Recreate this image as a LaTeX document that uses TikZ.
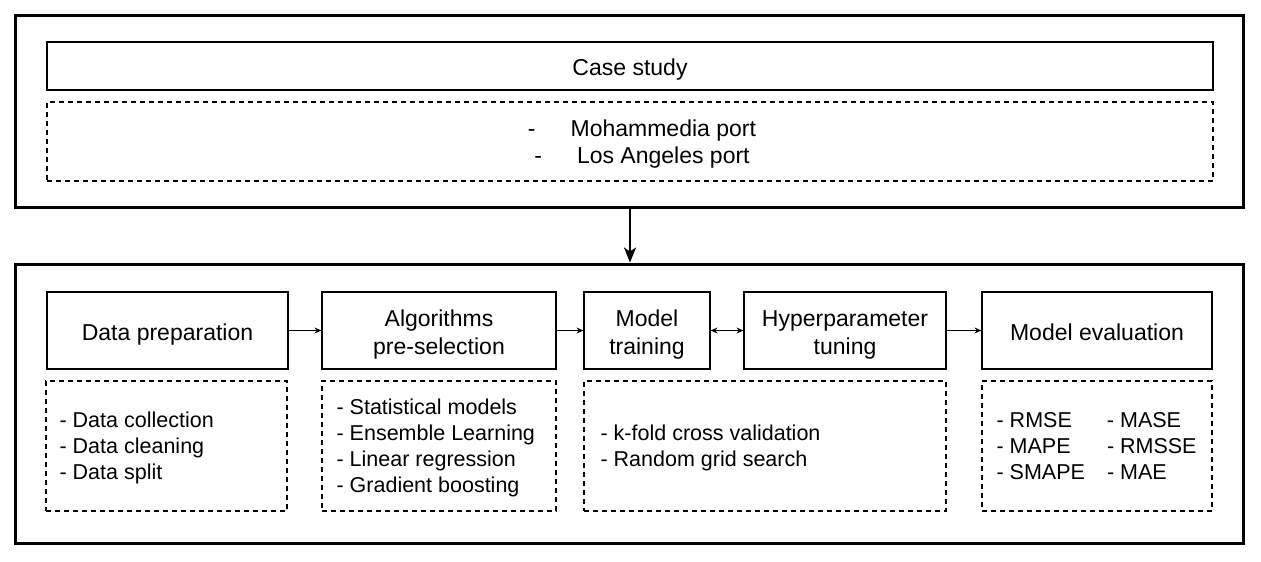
\documentclass[tikz,border=0pt]{standalone}
\usepackage{fontspec}
\setmainfont{Liberation Sans}
\usetikzlibrary{arrows.meta}
\newcommand{\sttop}{\rule{0pt}{24pt}}
\newcommand{\stbot}{\rule[-5pt]{0pt}{5pt}}
\tikzset{
  outerbox/.style={draw, line width=3pt, minimum width=1228pt, inner sep=0pt},
  stepbox/.style={draw, line width=1.2pt, inner sep=0pt, align=center,
     font=\fontsize{23}{28}\selectfont, minimum height=77pt},
  listbox/.style={draw, dashed, dash pattern=on 5pt off 4pt, line width=1.2pt, inner sep=0pt, minimum height=130pt},
  listtext/.style={align=left, inner sep=0pt, anchor=west, font=\fontsize{21.5}{26}\selectfont},
  smallarrow/.style={line width=1pt, -{Stealth[length=7pt,width=6pt,inset=2.5pt]}},
}
\begin{document}
\begin{tikzpicture}[x=1pt,y=-1pt]
\useasboundingbox (0,0) rectangle (1261,562);
% top block
\node[outerbox, minimum height=192pt] (top) at (629,111) {};
\node[draw, line width=1.2pt, minimum width=1166pt, minimum height=48pt, inner sep=0pt,
      font=\fontsize{23}{28}\selectfont] (case) at (630,66) {\sttop Case study\stbot};
\node[draw, dashed, dash pattern=on 5pt off 4pt, line width=1.2pt, minimum width=1166pt,
      minimum height=79pt, inner sep=0pt] (ports) at (630,141.5) {};
\node[align=center, inner sep=0pt, font=\fontsize{23}{27}\selectfont] (portstxt) at (642,144.3)
  {-\hspace{35pt}Mohammedia port\\-\hspace{35pt}Los Angeles port};
% bottom block
\node[outerbox, minimum height=279pt] (bot) at (629,403.5) {};
\draw[line width=2pt, -{Stealth[length=15pt,width=12pt,inset=4pt]}] (top.south -| 630,0) -- (bot.north -| 630,0);
% steps
\node[stepbox, minimum width=241pt] (dp) at (167.5,330.5) {\sttop Data preparation\stbot};
\node[stepbox, minimum width=234pt] (alg) at (439,330.5) {\sttop Algorithms\\pre-selection\stbot};
\node[stepbox, minimum width=126pt] (mt) at (647,330.5) {\sttop Model\\training\stbot};
\node[stepbox, minimum width=202pt] (hp) at (845,330.5) {\sttop Hyperparameter\\tuning\stbot};
\node[stepbox, minimum width=230pt] (me) at (1097,330.5) {\sttop Model evaluation\stbot};
\draw[smallarrow] (dp) -- (alg);
\draw[smallarrow] (alg) -- (mt);
\draw[line width=1pt, {Stealth[length=7pt,width=6pt,inset=2.5pt]}-{Stealth[length=7pt,width=6pt,inset=2.5pt]}] (mt) -- (hp);
\draw[smallarrow] (hp) -- (me);
% lists
\node[listbox, minimum width=241pt] (dpl) at (166.5,446) {};
\node[listbox, minimum width=234pt] (algl) at (439,446) {};
\node[listbox, minimum width=362pt] (mhl) at (765,446) {};
\node[listbox, minimum width=230pt] (mel) at (1097,446) {};
\node[listtext] (dpt) at ([xshift=14pt,yshift=-2pt]dpl.west) {- Data collection\\- Data cleaning\\- Data split};
\node[listtext] (algt) at ([xshift=15pt,yshift=-2pt]algl.west) {- Statistical models\\- Ensemble Learning\\- Linear regression\\- Gradient boosting};
\node[listtext] (mht) at ([xshift=17pt,yshift=-2pt]mhl.west) {- k-fold cross validation\\- Random grid search};
\node[listtext] (met) at ([xshift=15pt,yshift=-2pt]mel.west) {%
  \begin{tabular}{@{}l@{\hspace{22pt}}l@{}}
  - RMSE & - MASE\\
  - MAPE & - RMSSE\\
  - SMAPE & - MAE
  \end{tabular}};
\end{tikzpicture}
\end{document}
